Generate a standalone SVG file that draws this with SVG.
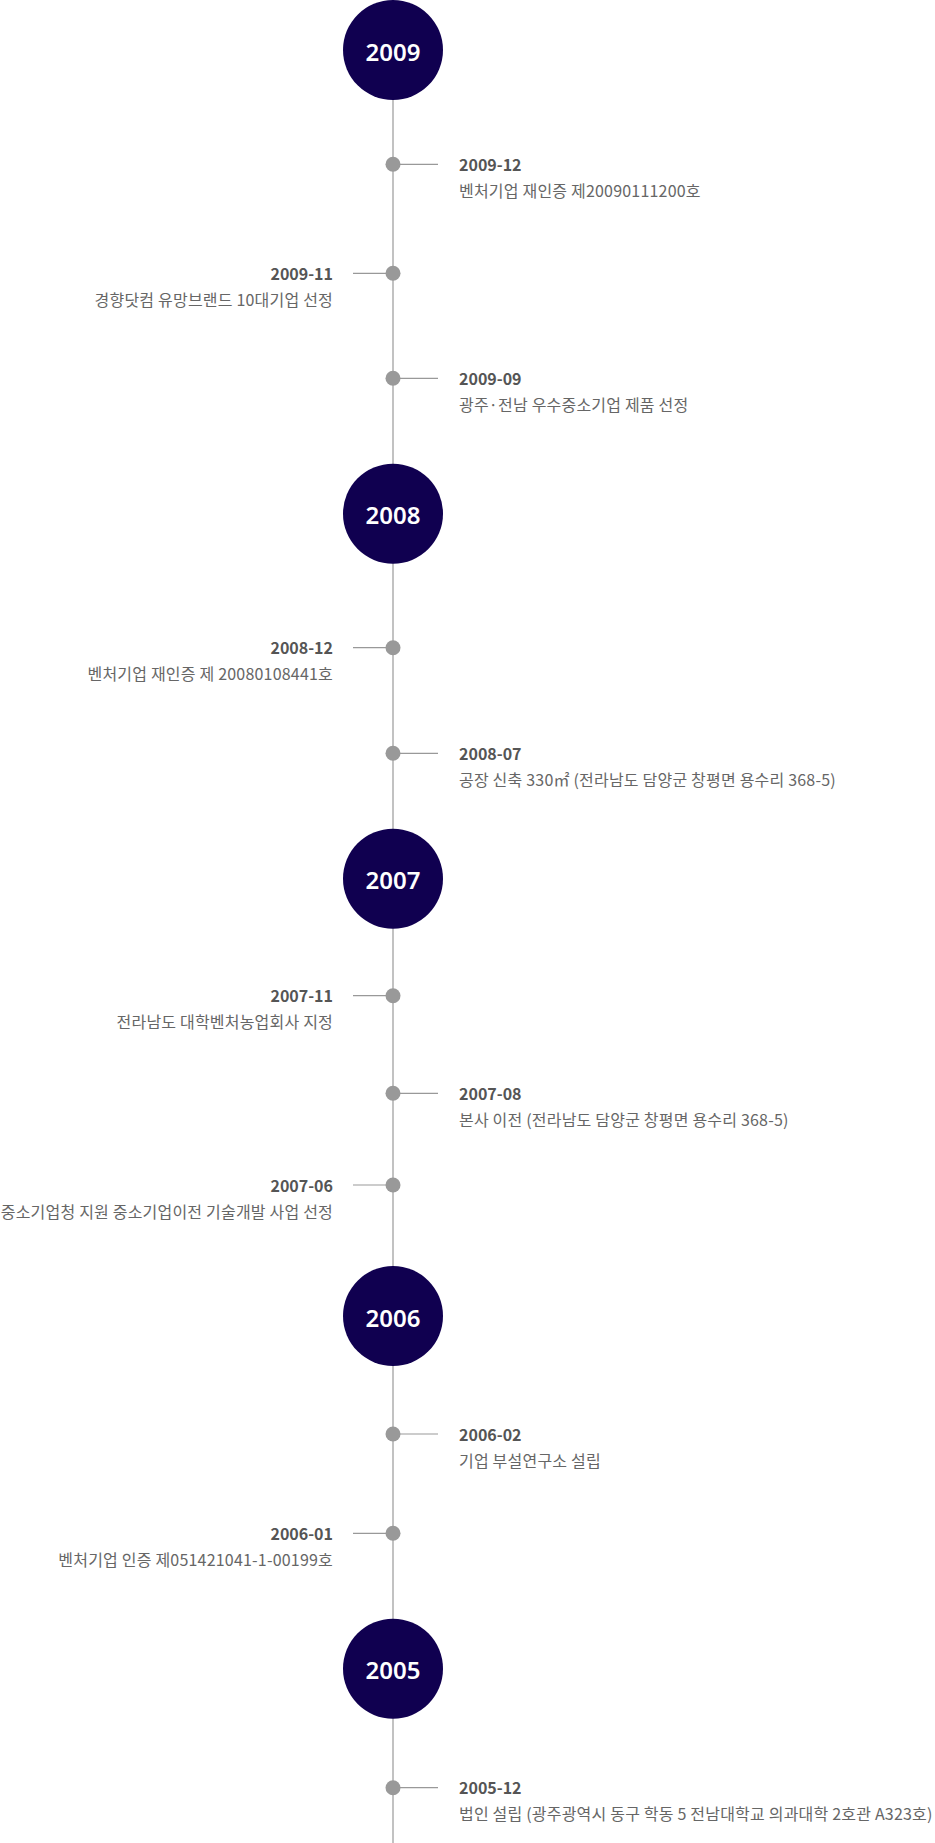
<svg xmlns="http://www.w3.org/2000/svg" width="935" height="1843" viewBox="0 0 935 1843">
<style>
.axis{stroke:#999;stroke-width:1.2;fill:none}
.tick{stroke:#999;stroke-width:1.2}
.dot{fill:#999}
.year{fill:#100050}
.yt{fill:#fff;font-family:"Noto Sans","Noto Sans CJK KR",sans-serif;font-size:24px;font-weight:600;text-anchor:middle}
.t{fill:#555;font-family:"Noto Sans CJK KR","Noto Sans",sans-serif;font-size:16px;font-weight:700}
.b{fill:#666;font-family:"Noto Sans CJK KR","Noto Sans",sans-serif;font-size:16px;font-weight:400;letter-spacing:0.2px}
.l text{text-anchor:end}
</style>
<rect width="935" height="1843" fill="#fff"/>
<g id="connectors">
<line class="axis" x1="393" y1="50" x2="393" y2="1843"/>
<line class="tick" x1="393" y1="164.3" x2="438" y2="164.3"/>
<line class="tick" x1="353" y1="273.3" x2="393" y2="273.3"/>
<line class="tick" x1="393" y1="378.3" x2="438" y2="378.3"/>
<line class="tick" x1="353" y1="647.7" x2="393" y2="647.7"/>
<line class="tick" x1="393" y1="753.3" x2="438" y2="753.3"/>
<line class="tick" x1="353" y1="995.7" x2="393" y2="995.7"/>
<line class="tick" x1="393" y1="1093.3" x2="438" y2="1093.3"/>
<line class="tick" x1="353" y1="1185" x2="393" y2="1185"/>
<line class="tick" x1="393" y1="1434" x2="438" y2="1434"/>
<line class="tick" x1="353" y1="1533.3" x2="393" y2="1533.3"/>
<line class="tick" x1="393" y1="1787.7" x2="438" y2="1787.7"/>
</g>
<g id="y2009"><circle class="year" cx="393" cy="50" r="50"/><text class="yt" x="393" y="60.5">2009</text></g>
<g id="e2009-12"><circle class="dot" cx="393" cy="164.3" r="7.5"/><text class="t" x="459" y="171">2009-12</text><text class="b" x="459" y="197">벤처기업 재인증 제20090111200호</text></g>
<g id="e2009-11" class="l"><circle class="dot" cx="393" cy="273.3" r="7.5"/><text class="t" x="333" y="280">2009-11</text><text class="b" x="333" y="306">경향닷컴 유망브랜드 10대기업 선정</text></g>
<g id="e2009-09"><circle class="dot" cx="393" cy="378.3" r="7.5"/><text class="t" x="459" y="385">2009-09</text><text class="b" x="459" y="411">광주·전남 우수중소기업 제품 선정</text></g>
<g id="y2008"><circle class="year" cx="393" cy="513.7" r="50"/><text class="yt" x="393" y="524.2">2008</text></g>
<g id="e2008-12" class="l"><circle class="dot" cx="393" cy="647.7" r="7.5"/><text class="t" x="333" y="654.4">2008-12</text><text class="b" x="333" y="680.4">벤처기업 재인증 제 20080108441호</text></g>
<g id="e2008-07"><circle class="dot" cx="393" cy="753.3" r="7.5"/><text class="t" x="459" y="760">2008-07</text><text class="b" x="459" y="786">공장 신축 330㎡ (전라남도 담양군 창평면 용수리 368-5)</text></g>
<g id="y2007"><circle class="year" cx="393" cy="878.7" r="50"/><text class="yt" x="393" y="889.2">2007</text></g>
<g id="e2007-11" class="l"><circle class="dot" cx="393" cy="995.7" r="7.5"/><text class="t" x="333" y="1002.4">2007-11</text><text class="b" x="333" y="1028.4">전라남도 대학벤처농업회사 지정</text></g>
<g id="e2007-08"><circle class="dot" cx="393" cy="1093.3" r="7.5"/><text class="t" x="459" y="1100">2007-08</text><text class="b" x="459" y="1126">본사 이전 (전라남도 담양군 창평면 용수리 368-5)</text></g>
<g id="e2007-06" class="l"><circle class="dot" cx="393" cy="1185" r="7.5"/><text class="t" x="333" y="1191.7">2007-06</text><text class="b" x="333" y="1217.7">중소기업청 지원 중소기업이전 기술개발 사업 선정</text></g>
<g id="y2006"><circle class="year" cx="393" cy="1316" r="50"/><text class="yt" x="393" y="1326.5">2006</text></g>
<g id="e2006-02"><circle class="dot" cx="393" cy="1434" r="7.5"/><text class="t" x="459" y="1440.7">2006-02</text><text class="b" x="459" y="1466.7">기업 부설연구소 설립</text></g>
<g id="e2006-01" class="l"><circle class="dot" cx="393" cy="1533.3" r="7.5"/><text class="t" x="333" y="1540">2006-01</text><text class="b" x="333" y="1566">벤처기업 인증 제051421041-1-00199호</text></g>
<g id="y2005"><circle class="year" cx="393" cy="1668.7" r="50"/><text class="yt" x="393" y="1679.2">2005</text></g>
<g id="e2005-12"><circle class="dot" cx="393" cy="1787.7" r="7.5"/><text class="t" x="459" y="1794.4">2005-12</text><text class="b" x="459" y="1820.4">법인 설립 (광주광역시 동구 학동 5 전남대학교 의과대학 2호관 A323호)</text></g>
</svg>
